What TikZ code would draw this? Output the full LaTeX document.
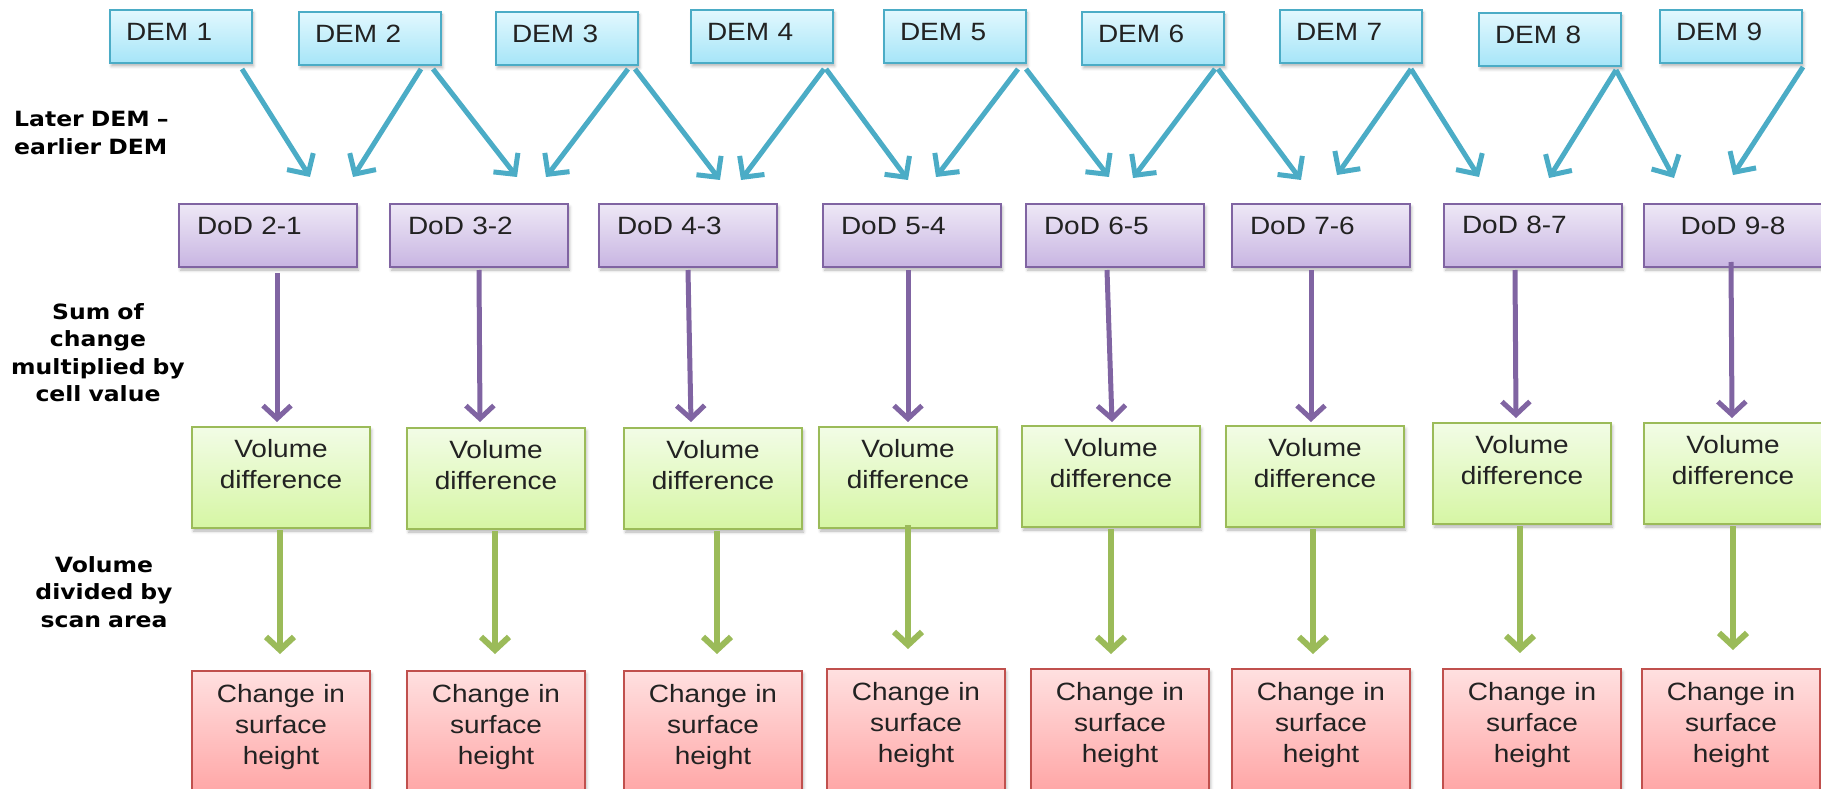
\documentclass[tikz,border=0pt]{standalone}
\usepackage{fontspec}
\setmainfont{Liberation Sans}
\newfontfamily\boxfont[FakeStretch=1.12]{Liberation Sans}
\newfontfamily\labfont[FakeStretch=1.12]{DejaVu Sans}
\usetikzlibrary{arrows.meta,shadows.blur}
\definecolor{demB}{HTML}{4BACC6}
\definecolor{demT}{HTML}{E2F8FE}
\definecolor{demBot}{HTML}{A6E5F8}
\definecolor{dodB}{HTML}{8064A2}
\definecolor{dodT}{HTML}{EEE8F6}
\definecolor{dodBot}{HTML}{C8B5E2}
\definecolor{vdB}{HTML}{9BBB59}
\definecolor{vdT}{HTML}{F2FCE6}
\definecolor{vdBot}{HTML}{D6F6A4}
\definecolor{chB}{HTML}{C0504D}
\definecolor{chT}{HTML}{FFE0E0}
\definecolor{chBot}{HTML}{FFA2A2}
\definecolor{txt}{HTML}{222222}
\begin{document}
\begin{tikzpicture}[x=1pt,y=-1pt,
  boxbase/.style={anchor=north west, outer sep=0pt, inner ysep=0pt, line width=2pt,
    font=\boxfont\fontsize{25pt}{31pt}\selectfont, text=txt,
    blur shadow={shadow xshift=1.5pt, shadow yshift=-3pt, shadow blur radius=3pt, shadow opacity=30}},
  dembox/.style={boxbase, draw=demB, top color=demT, bottom color=demBot,
    inner xsep=16pt, text width=110pt, align=left, text height=31pt, text depth=22pt},
  dodbox/.style={boxbase, draw=dodB, top color=dodT, bottom color=dodBot,
    inner xsep=18pt, text width=142pt, align=left, text height=30pt, text depth=33pt},
  vdbox/.style={boxbase, draw=vdB, top color=vdT, bottom color=vdBot,
    inner xsep=4pt, text width=170pt, align=center, text height=30pt, text depth=71pt},
  chbox/.style={boxbase, draw=chB, top color=chT, bottom color=chBot,
    inner xsep=4pt, text width=170pt, align=center, text height=31pt, text depth=100pt},
  lab/.style={inner sep=0pt, font=\labfont\bfseries\fontsize{21pt}{27.5pt}\selectfont, text=black},
  barrow/.style={draw=demB, line width=5pt, -{Straight Barb[length=15pt,width=31pt]}},
  parrow/.style={draw=dodB, line width=5pt, -{Straight Barb[length=13pt,width=28pt]}},
  garrow/.style={draw=vdB, line width=6pt, -{Straight Barb[length=13pt,width=28pt]}}
]
\useasboundingbox (0,0) rectangle (1821,789);

% labels
\node[lab, anchor=base west, text width=200pt, align=left] (l1) at (14,127) {Later DEM –\\earlier DEM};
\node[lab, anchor=base, text width=200pt, align=center] (l2) at (98,319) {Sum of\\change\\multiplied by\\cell value};
\node[lab, anchor=base, text width=200pt, align=center] (l3) at (104,572) {Volume\\divided by\\scan area};

% DEM boxes
\node[dembox] (dem1) at (110,10) {DEM 1};
\node[dembox] (dem2) at (299,12) {DEM 2};
\node[dembox] (dem3) at (496,12) {DEM 3};
\node[dembox] (dem4) at (691,10) {DEM 4};
\node[dembox] (dem5) at (884,10) {DEM 5};
\node[dembox] (dem6) at (1082,12) {DEM 6};
\node[dembox] (dem7) at (1280,10) {DEM 7};
\node[dembox] (dem8) at (1479,13) {DEM 8};
\node[dembox] (dem9) at (1660,10) {DEM 9};

% DoD boxes
\node[dodbox] (d21) at (179,204) {DoD 2-1};
\node[dodbox] (d32) at (390,204) {DoD 3-2};
\node[dodbox] (d43) at (599,204) {DoD 4-3};
\node[dodbox] (d54) at (823,204) {DoD 5-4};
\node[dodbox] (d65) at (1026,204) {DoD 6-5};
\node[dodbox] (d76) at (1232,204) {DoD 7-6};
\node[dodbox, text height=29pt, text depth=34pt] (d87) at (1444,204) {DoD 8-7};
\node[dodbox, align=center] (d98) at (1644,204) {DoD 9-8};

% Volume difference boxes
\node[vdbox] (v1) at (192,427) {Volume\\difference};
\node[vdbox] (v2) at (407,428) {Volume\\difference};
\node[vdbox] (v3) at (624,428) {Volume\\difference};
\node[vdbox] (v4) at (819,427) {Volume\\difference};
\node[vdbox] (v5) at (1022,426) {Volume\\difference};
\node[vdbox] (v6) at (1226,426) {Volume\\difference};
\node[vdbox] (v7) at (1433,423) {Volume\\difference};
\node[vdbox] (v8) at (1644,423) {Volume\\difference};

% Change in surface height boxes
\node[chbox] (c1) at (192,671) {Change in\\surface\\height};
\node[chbox] (c2) at (407,671) {Change in\\surface\\height};
\node[chbox] (c3) at (624,671) {Change in\\surface\\height};
\node[chbox] (c4) at (827,669) {Change in\\surface\\height};
\node[chbox] (c5) at (1031,669) {Change in\\surface\\height};
\node[chbox] (c6) at (1232,669) {Change in\\surface\\height};
\node[chbox] (c7) at (1443,669) {Change in\\surface\\height};
\node[chbox] (c8) at (1642,669) {Change in\\surface\\height};

% blue arrow tips (above DoD boxes)
\coordinate (b1) at (310,177);
\coordinate (b2) at (353,177);
\coordinate (b3) at (517,177);
\coordinate (b4) at (546,177);
\coordinate (b5) at (720,180);
\coordinate (b6) at (741,180);
\coordinate (b7) at (908,180);
\coordinate (b8) at (936,177);
\coordinate (b9) at (1109,177);
\coordinate (b10) at (1133,178);
\coordinate (b11) at (1301,180);
\coordinate (b12) at (1337,175);
\coordinate (b13) at (1479,177);
\coordinate (b14) at (1549,178);
\coordinate (b15) at (1674,178);
\coordinate (b16) at (1733,175);

\draw[barrow] ([shift={(132,6)}]dem1.south west) -- (b1);
\draw[barrow] ([shift={(122,4)}]dem2.south west) -- (b2);
\draw[barrow] ([shift={(134,4)}]dem2.south west) -- (b3);
\draw[barrow] ([shift={(132,4)}]dem3.south west) -- (b4);
\draw[barrow] ([shift={(139,4)}]dem3.south west) -- (b5);
\draw[barrow] ([shift={(133,6)}]dem4.south west) -- (b6);
\draw[barrow] ([shift={(135,6)}]dem4.south west) -- (b7);
\draw[barrow] ([shift={(134,6)}]dem5.south west) -- (b8);
\draw[barrow] ([shift={(142,6)}]dem5.south west) -- (b9);
\draw[barrow] ([shift={(133,4)}]dem6.south west) -- (b10);
\draw[barrow] ([shift={(136,4)}]dem6.south west) -- (b11);
\draw[barrow] ([shift={(131,6)}]dem7.south west) -- (b12);
\draw[barrow] ([shift={(131,6)}]dem7.south west) -- (b13);
\draw[barrow] ([shift={(137,4)}]dem8.south west) -- (b14);
\draw[barrow] ([shift={(137,4)}]dem8.south west) -- (b15);
\draw[barrow] ([shift={(143,4)}]dem9.south west) -- (b16);

% purple arrow tips (above volume boxes)
\coordinate (p1) at (277,422);
\coordinate (p2) at (480,422);
\coordinate (p3) at (691,422);
\coordinate (p4) at (908,422);
\coordinate (p5) at (1112,422);
\coordinate (p6) at (1311,422);
\coordinate (p7) at (1516,418);
\coordinate (p8) at (1732,418);

\draw[parrow] ([shift={(98,6)}]d21.south west) -- (p1);
\draw[parrow] ([shift={(89,3)}]d32.south west) -- (p2);
\draw[parrow] ([shift={(89,3)}]d43.south west) -- (p3);
\draw[parrow] ([shift={(85,3)}]d54.south west) -- (p4);
\draw[parrow] ([shift={(81,3)}]d65.south west) -- (p5);
\draw[parrow] ([shift={(79,3)}]d76.south west) -- (p6);
\draw[parrow] ([shift={(71,3)}]d87.south west) -- (p7);
\draw[parrow] ([shift={(87,-5)}]d98.south west) -- (p8);

% green arrow tips (above change boxes)
\coordinate (g1) at (280,654);
\coordinate (g2) at (495,654);
\coordinate (g3) at (717,654);
\coordinate (g4) at (908,649);
\coordinate (g5) at (1111,654);
\coordinate (g6) at (1313,654);
\coordinate (g7) at (1520,653);
\coordinate (g8) at (1733,650);

\draw[garrow] ([shift={(88,2)}]v1.south west) -- (g1);
\draw[garrow] ([shift={(88,2)}]v2.south west) -- (g2);
\draw[garrow] ([shift={(93,2)}]v3.south west) -- (g3);
\draw[garrow] ([shift={(89,-3)}]v4.south west) -- (g4);
\draw[garrow] ([shift={(89,2)}]v5.south west) -- (g5);
\draw[garrow] ([shift={(87,2)}]v6.south west) -- (g6);
\draw[garrow] ([shift={(87,2)}]v7.south west) -- (g7);
\draw[garrow] ([shift={(89,2)}]v8.south west) -- (g8);
\end{tikzpicture}
\end{document}
